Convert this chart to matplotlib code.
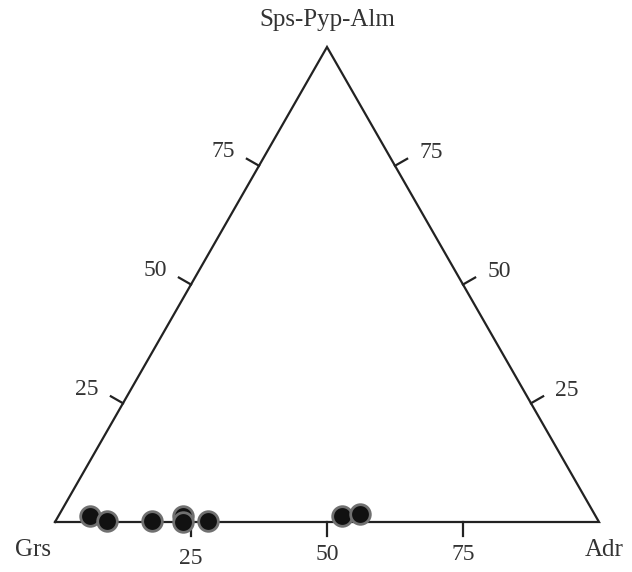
import numpy as np
import matplotlib
matplotlib.use("Agg")
import matplotlib.pyplot as plt

# ---- data (mol %) ----
adr = [5.8, 9.5, 17.7, 22.9, 23.5, 28.0, 52.2, 55.2]      # andradite
spa = [1.3, 0.2, 0.2, 1.3, 0.0, 0.2, 1.2, 1.7]            # Sps+Pyp+Alm
tick_values = [25, 50, 75]
apex_label = "Sps-Pyp-Alm"
left_label = "Grs"
right_label = "Adr"

plt.rcParams['font.family'] = ['Liberation Serif', 'DejaVu Serif']

W, H = 632, 572
fig = plt.figure(figsize=(W / 100, H / 100), dpi=100)
ax = fig.add_axes([0, 0, 1, 1])
ax.set_axis_off()

# pixel geometry of the triangle
x0, yb = 55.0, 522.0      # Grs vertex (pixel, y-down)
base_w = 544.0
height = 475.0
ax.set_xlim(-x0 / base_w, (W - x0) / base_w)
ax.set_ylim((yb - H) / height, yb / height)
sx, sy = base_w, height   # pixels per data unit


def tern(a, s):
    """a = Adr fraction, s = apex fraction -> data coords"""
    return a + s / 2.0, s


lc = '#222222'
lw = 1.6
# triangle
tx = [0, 1, 0.5, 0]
ty = [0, 0, 1, 0]
ax.plot(tx, ty, color=lc, lw=lw, solid_joinstyle='miter', zorder=2)

tick_len = 14.0
fs = 17


def unit(vx, vy):
    n = np.hypot(vx, vy)
    return vx / n, vy / n


ln = unit(-height, base_w / 2)     # outward normal, left edge
rn = unit(height, base_w / 2)      # outward normal, right edge

for v in tick_values:
    f = v / 100.0
    # left edge
    bx, by = tern(0, f)
    ax.plot([bx, bx + tick_len * ln[0] / sx], [by, by + tick_len * ln[1] / sy],
            color=lc, lw=lw, zorder=2)
    ax.text(bx - 36 / sx, by + 14 / sy, str(v), ha='center', va='center',
            fontsize=fs, color='#333333')
    # right edge
    bx, by = tern(1 - f, f)
    ax.plot([bx, bx + tick_len * rn[0] / sx], [by, by + tick_len * rn[1] / sy],
            color=lc, lw=lw, zorder=2)
    ax.text(bx + 36 / sx, by + 13 / sy, str(v), ha='center', va='center',
            fontsize=fs, color='#333333')
    # bottom edge
    bx, by = tern(f, 0)
    ax.plot([bx, bx], [by, by - tick_len / sy], color=lc, lw=lw, zorder=2)
    ax.text(bx, by - (37 if v == 25 else 33) / sy, str(v), ha='center',
            va='center', fontsize=fs, color='#333333')

# vertex labels
ax.text(0.5, 1 + 27 / sy, apex_label, ha='center', va='center', fontsize=fs + 1,
        color='#333333')
ax.text(-22 / sx, -28 / sy, left_label, ha='center', va='center', fontsize=fs + 1,
        color='#333333')
ax.text(1 - 14 / sx, -28 / sy, right_label, ha='left', va='center',
        fontsize=fs + 1, color='#333333')

# data points
px, py = zip(*[tern(a / 100.0, s / 100.0) for a, s in zip(adr, spa)])
ax.scatter(px, py, s=200, c='#111111', edgecolors='#707070', linewidths=2.0,
           zorder=3)

fig.savefig('out.png', dpi=100)
